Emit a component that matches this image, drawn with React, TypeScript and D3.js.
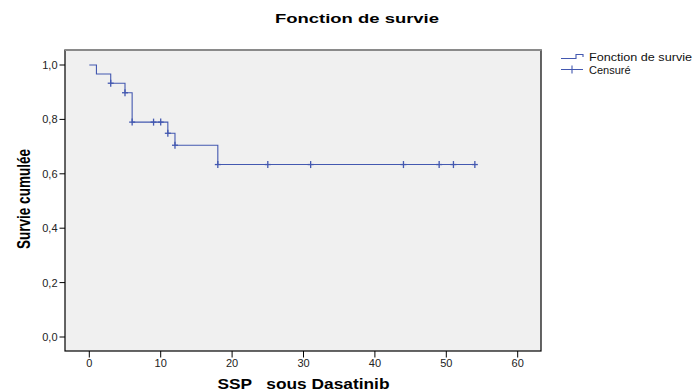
import React, { useRef, useEffect } from "react";
import * as d3 from "d3";

// Kaplan-Meier step points (time, cumulated survival)
const stepTimes = [0, 1, 3, 5, 6, 11, 12, 18, 54];
const stepSurv = [1.0, 0.967, 0.933, 0.898, 0.79, 0.749, 0.705, 0.634, 0.634];
// censored observations (times)
const censorTimes = [3, 5, 6, 9, 10, 11, 12, 18, 25, 31, 44, 49, 51, 54];

const yTicks = [0, 0.2, 0.4, 0.6, 0.8, 1.0];
const xTicks = [0, 10, 20, 30, 40, 50, 60];

const W = 696;
const H = 390;
const FONT = "'Liberation Sans', Arial, sans-serif";
const BLUE = "#4358b0";

const box = { left: 65, right: 541, top: 50, bottom: 351 };

function survAt(t: number) {
  let v = stepSurv[0];
  for (let i = 0; i < stepTimes.length; i++) {
    if (stepTimes[i] <= t) v = stepSurv[i];
  }
  return v;
}

const App: React.FC = () => {
  const svgRef = useRef<SVGSVGElement | null>(null);

  useEffect(() => {
    if (!svgRef.current) return;
    const svg = d3.select(svgRef.current);
    svg.selectAll("*").remove();

    const x = d3.scaleLinear().domain([0, 60]).range([89.3, 517.7]);
    const y = d3.scaleLinear().domain([0, 1]).range([337, 65]);

    svg.append("rect").attr("width", W).attr("height", H).attr("fill", "#fff");

    // title
    svg.append("text")
      .attr("x", 275).attr("y", 22.5)
      .attr("textLength", 164).attr("lengthAdjust", "spacingAndGlyphs")
      .attr("font-family", FONT).attr("font-size", 13).attr("font-weight", "bold")
      .text("Fonction de survie");

    // plot area
    svg.append("rect")
      .attr("x", box.left).attr("y", box.top)
      .attr("width", box.right - box.left).attr("height", box.bottom - box.top)
      .attr("fill", "#f0f0f0").attr("stroke", "#000").attr("stroke-width", 1.2);
    svg.append("line")
      .attr("x1", box.left).attr("x2", box.right + 0.6)
      .attr("y1", box.top).attr("y2", box.top)
      .attr("stroke", "#8a8a8a").attr("stroke-width", 2);

    // y axis
    const ya = svg.append("g");
    yTicks.forEach((t) => {
      ya.append("line")
        .attr("x1", 59.5).attr("x2", box.left).attr("y1", y(t)).attr("y2", y(t))
        .attr("stroke", "#000").attr("stroke-width", 1);
      ya.append("text")
        .attr("x", 57.5).attr("y", y(t) + 4)
        .attr("text-anchor", "end")
        .attr("font-family", FONT).attr("font-size", 11).attr("fill", "#222")
        .text(d3.format(".1f")(t).replace(".", ","));
    });

    // x axis
    const xa = svg.append("g");
    xTicks.forEach((t) => {
      xa.append("line")
        .attr("x1", x(t)).attr("x2", x(t)).attr("y1", box.bottom).attr("y2", 357.5)
        .attr("stroke", "#000").attr("stroke-width", 1);
      xa.append("text")
        .attr("x", x(t)).attr("y", 367)
        .attr("text-anchor", "middle")
        .attr("font-family", FONT).attr("font-size", 11).attr("fill", "#222")
        .text(String(t));
    });

    // axis titles
    svg.append("text")
      .attr("x", 217.5).attr("y", 388.5)
      .attr("textLength", 172).attr("lengthAdjust", "spacingAndGlyphs")
      .attr("font-family", FONT).attr("font-size", 15).attr("font-weight", "bold")
      .attr("xml:space", "preserve")
      .style("white-space", "pre")
      .text("SSP   sous Dasatinib");

    svg.append("text")
      .attr("transform", `translate(29.5,199) scale(1.35,1) rotate(-90)`)
      .attr("text-anchor", "middle")
      .attr("textLength", 100).attr("lengthAdjust", "spacingAndGlyphs")
      .attr("font-family", FONT).attr("font-size", 13).attr("font-weight", "bold")
      .text("Survie cumulée");

    // survival curve
    const pts: [number, number][] = stepTimes.map((t, i) => [t, stepSurv[i]]);
    const line = d3.line<[number, number]>()
      .x((d) => x(d[0]))
      .y((d) => y(d[1]))
      .curve(d3.curveStepAfter);
    svg.append("path")
      .attr("d", line(pts) as string)
      .attr("fill", "none")
      .attr("stroke", BLUE)
      .attr("stroke-width", 1.1);

    // censor marks
    const cg = svg.append("g").attr("stroke", BLUE).attr("stroke-width", 1.3);
    censorTimes.forEach((t) => {
      const cx = x(t);
      const cy = y(survAt(t));
      cg.append("line").attr("x1", cx).attr("x2", cx).attr("y1", cy - 3.5).attr("y2", cy + 3.5);
      cg.append("line").attr("x1", cx - 3).attr("x2", cx + 3).attr("y1", cy).attr("y2", cy);
    });

    // legend
    const lg = svg.append("g").attr("stroke", BLUE).attr("stroke-width", 1.1).attr("fill", "none");
    lg.append("path").attr("d", "M561,58.5H576V54.5H583V57");
    lg.append("path").attr("d", "M561,69.5H583M572,65.5V73.5");
    svg.append("text")
      .attr("x", 589).attr("y", 61)
      .attr("textLength", 103).attr("lengthAdjust", "spacingAndGlyphs")
      .attr("font-family", FONT).attr("font-size", 11).attr("fill", "#111")
      .text("Fonction de survie");
    svg.append("text")
      .attr("x", 589).attr("y", 73.5)
      .attr("font-family", FONT).attr("font-size", 11).attr("fill", "#111")
      .text("Censuré");
  }, []);

  return (
    <svg
      ref={svgRef}
      width={W}
      height={H}
      style={{ position: "absolute", left: 0, top: 0 }}
    ></svg>
  );
};

export default App;
